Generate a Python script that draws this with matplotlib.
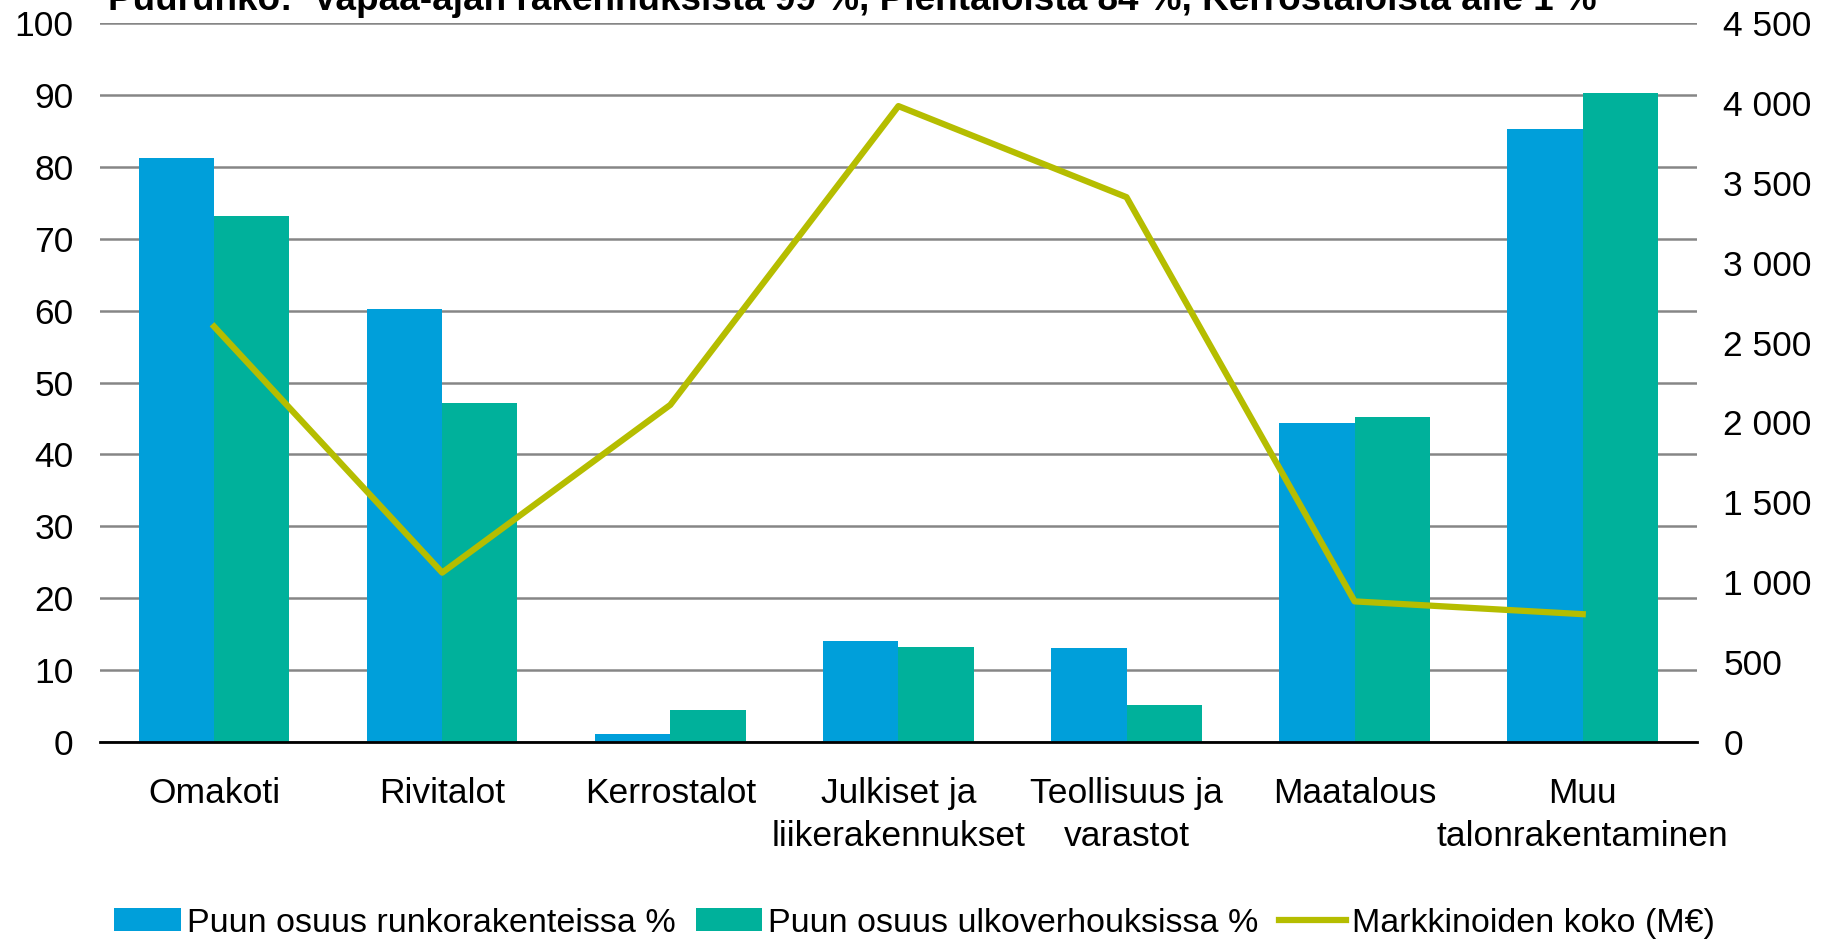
import matplotlib
matplotlib.use('Agg')
import matplotlib.pyplot as plt
from matplotlib.ticker import FuncFormatter
import numpy as np

plt.rcParams['font.family'] = ['Liberation Sans', 'DejaVu Sans']

categories = ['Omakoti', 'Rivitalot', 'Kerrostalot', 'Julkiset ja\nliikerakennukset',
              'Teollisuus ja\nvarastot', 'Maatalous', 'Muu\ntalonrakentaminen']
runko = [81.2, 60.2, 1.1, 14.1, 13.1, 44.4, 85.2]
ulkoverhous = [73.2, 47.1, 4.4, 13.2, 5.2, 45.2, 90.2]
markkinat = [2600, 1060, 2110, 3980, 3410, 880, 800]

title = 'Puurunko:  Vapaa-ajan rakennuksista 99 %, Pientaloista 84 %, Kerrostaloista alle 1 %'
labels = ['Puun osuus runkorakenteissa %', 'Puun osuus ulkoverhouksissa %', 'Markkinoiden koko (M€)']

c_blue = '#009FDA'
c_green = '#00B19B'
c_line = '#B5BD00'
fs = 25.5

fig = plt.figure(figsize=(18.29, 9.39), dpi=100)
ax = fig.add_axes([0.0547, 0.2098, 0.873, 0.7657])
x = np.arange(len(categories))
w = 0.33
b1 = ax.bar(x - w / 2, runko, w, color=c_blue, label=labels[0], zorder=2)
b2 = ax.bar(x + w / 2, ulkoverhous, w, color=c_green, label=labels[1], zorder=2)
ax.set_xlim(-0.5, len(categories) - 0.5)
ax.set_ylim(0, 100)
ax.set_yticks(range(0, 101, 10))
ax.yaxis.grid(True, color='#868686', lw=1.8, zorder=0)
ax.set_axisbelow(True)
ax.set_xticks(x)
ax.set_xticklabels(categories, fontsize=fs, linespacing=1.38)
ax.tick_params(axis='x', length=0, pad=25)
ax.tick_params(axis='y', length=0, pad=19, labelsize=fs)
for s in ['top', 'right', 'left']:
    ax.spines[s].set_visible(False)
ax.spines['bottom'].set_color('black')
ax.spines['bottom'].set_linewidth(2)
ax.spines['bottom'].set_zorder(3)

ax2 = ax.twinx()
ln, = ax2.plot(x, markkinat, color=c_line, lw=4.5, label=labels[2])
ax2.set_ylim(0, 4500)
ax2.set_yticks(range(0, 4501, 500))
ax2.yaxis.set_major_formatter(FuncFormatter(lambda v, p: f'{int(v):,}'.replace(',', ' ')))
ax2.tick_params(axis='y', length=0, pad=19, labelsize=fs)
for s in ax2.spines.values():
    s.set_visible(False)

# title is partly clipped at the top edge, as in the source image
fig.text(0.059, 0.989, title, fontsize=26.6, fontweight='bold', ha='left', va='baseline')

fig.legend([b1, b2, ln], labels, loc='center', bbox_to_anchor=(0.5, 0.017), ncol=3,
           frameon=False, fontsize=24.5, handlelength=1.95, handleheight=0.68,
           handletextpad=0.18, columnspacing=0.6, borderaxespad=0, borderpad=0)

fig.savefig('out.png', dpi=100)
